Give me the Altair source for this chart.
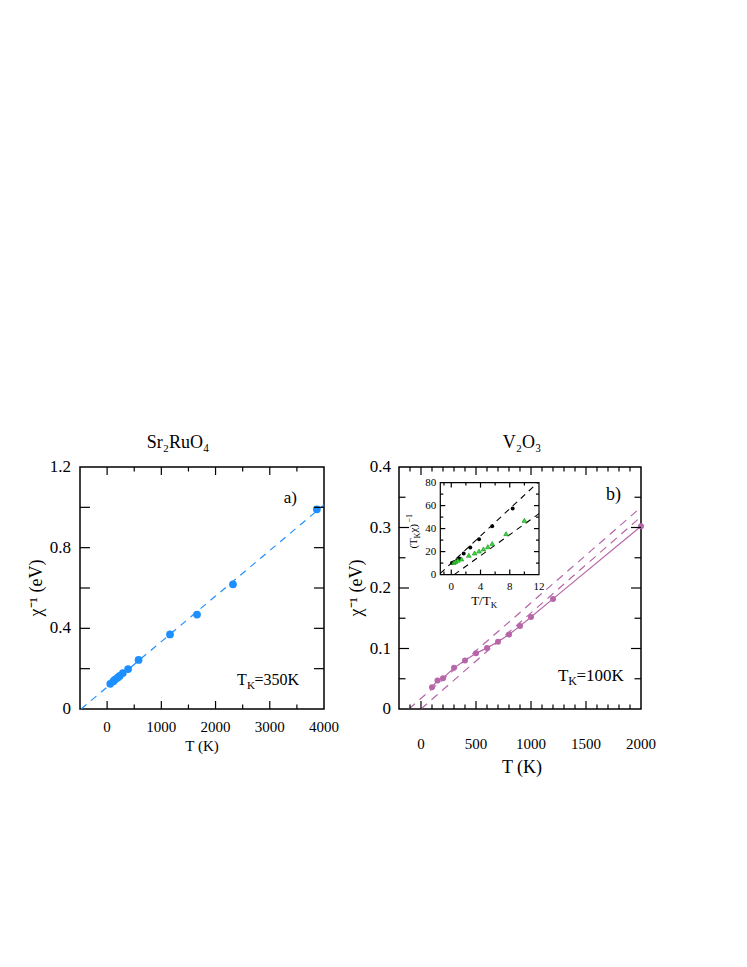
import altair as alt
import pandas as pd

FONT = "Liberation Serif"

# ---------------- Panel a: Sr2RuO4 ----------------
a_T = [58, 116, 145, 193, 232, 290, 387, 580, 1160, 1658, 2321, 3868]
a_chi = [0.125, 0.138, 0.146, 0.155, 0.164, 0.178, 0.198, 0.243, 0.370, 0.468, 0.618, 0.990]
a_fit_T = [-480, 4000]
a_fit_chi = [0.0, 1.012]
a_xdom = [-500, 4000]
a_ydom = [0, 1.2]
a_xlabels = [0, 1000, 2000, 3000, 4000]
a_xlabel_text = ["0", "1000", "2000", "3000", "4000"]
a_xminor = [500, 1500, 2500, 3500]
a_ylabels = [0, 0.4, 0.8, 1.2]
a_ylabel_text = ["0", "0.4", "0.8", "1.2"]
a_yticks = [0.2, 0.4, 0.6, 0.8, 1.0]

# ---------------- Panel b: V2O3 ----------------
b_T = [100, 150, 200, 300, 400, 500, 600, 700, 800, 900, 1000, 1200, 2000]
b_chi = [0.036, 0.047, 0.051, 0.068, 0.080, 0.092, 0.101, 0.111, 0.123, 0.137, 0.152, 0.182, 0.302]
b_fit1_T = [-110, 1970]
b_fit1_chi = [0.0, 0.3286]
b_fit2_T = [0, 1970]
b_fit2_chi = [0.0, 0.313]
b_xdom = [-200, 2000]
b_ydom = [0, 0.4]
b_xlabels = [0, 500, 1000, 1500, 2000]
b_xlabel_text = ["0", "500", "1000", "1500", "2000"]
b_xmajor = [0, 500, 1000, 1500]
b_xminor = [v for v in range(-100, 2000, 100) if v % 500 != 0]
b_ylabels = [0, 0.1, 0.2, 0.3, 0.4]
b_ylabel_text = ["0", "0.1", "0.2", "0.3", "0.4"]
b_ymajor = [0.1, 0.2, 0.3]
b_yminor = [0.05, 0.15, 0.25, 0.35]

# ---------------- Inset ----------------
ins_bx = [0.1, 0.4, 0.8, 1.1, 1.7, 2.6, 3.8, 5.6, 8.4]
ins_by = [10.1, 11.0, 12.5, 14.0, 18.3, 23.5, 30.7, 42.0, 57.4]
ins_gx = [0.35, 0.6, 0.9, 1.4, 2.4, 3.2, 3.8, 4.4, 5.0, 5.6, 7.5, 10.0]
ins_gy = [10.5, 11.5, 12.5, 13.6, 16.8, 18.8, 20.5, 22.3, 24.3, 27.0, 35.6, 47.2]
ins_fit1_x = [-1.5, 11.84]
ins_fit1_y = [1.0, 80.0]
ins_fit2_x = [0.4, 12.0]
ins_fit2_y = [0.0, 53.0]
ins_xdom = [-1.5, 12]
ins_ydom = [0, 80]
ins_xlabels = [0, 4, 8, 12]
ins_xlabel_text = ["0", "4", "8", "12"]
ins_xmajor = [0, 4, 8]
ins_xminor = [-1, 2, 6, 10]
ins_ylabels = [0, 20, 40, 60, 80]
ins_ylabel_text = ["0", "20", "40", "60", "80"]
ins_ymajor = [20, 40, 60]
ins_yminor = [10, 30, 50, 70]

BLUE = "#1e8fff"
PURPLE = "#b766a9"
GREEN = "#33dd33"

W_A, W_B, H = 244, 242, 242
# inset box in panel-b pixel coordinates
IL, IR, IT, IB = 41.3, 140.0, 15.6, 107.6


def xticks(vals, scale, length, ybot, ytop):
    df = pd.DataFrame({"v": vals})
    base = alt.Chart(df).mark_rule(color="black", strokeWidth=1.2)
    enc_x = alt.X("v:Q", scale=scale, axis=None)
    return [
        base.encode(x=enc_x, y=alt.value(ybot), y2=alt.value(ybot - length)),
        base.encode(x=enc_x, y=alt.value(ytop), y2=alt.value(ytop + length)),
    ]


def yticks(vals, scale, length, xleft, xright):
    df = pd.DataFrame({"v": vals})
    base = alt.Chart(df).mark_rule(color="black", strokeWidth=1.2)
    enc_y = alt.Y("v:Q", scale=scale, axis=None)
    return [
        base.encode(y=enc_y, x=alt.value(xleft), x2=alt.value(xleft + length)),
        base.encode(y=enc_y, x=alt.value(xright), x2=alt.value(xright - length)),
    ]


def xlabels(vals, texts, scale, ypix, fs):
    df = pd.DataFrame({"v": vals, "t": texts})
    return alt.Chart(df).mark_text(font=FONT, fontSize=fs, color="black", align="center",
                                   baseline="top").encode(
        x=alt.X("v:Q", scale=scale, axis=None), y=alt.value(ypix), text="t:N")


def ylabels(vals, texts, scale, xpix, fs):
    df = pd.DataFrame({"v": vals, "t": texts})
    return alt.Chart(df).mark_text(font=FONT, fontSize=fs, color="black", align="right",
                                   baseline="middle").encode(
        y=alt.Y("v:Q", scale=scale, axis=None), x=alt.value(xpix), text="t:N")


def free_text(txt, xpix, ypix, fs, angle=0, align="center", baseline="middle", dx=0, dy=0):
    kw = dict(font=FONT, fontSize=fs, color="black", align=align, baseline=baseline, dx=dx, dy=dy)
    if angle:
        kw["angle"] = angle
    return alt.Chart(pd.DataFrame({"t": [txt]})).mark_text(**kw).encode(
        x=alt.value(xpix), y=alt.value(ypix), text="t:N")


def text_layer(df, xscale, yscale, **kw):
    return alt.Chart(df).mark_text(font=FONT, color="black", **kw).encode(
        x=alt.X("x:Q", scale=xscale, axis=None),
        y=alt.Y("y:Q", scale=yscale, axis=None),
        text="t:N",
    )


# ================= Panel a =================
xs_a = alt.Scale(domain=a_xdom, nice=False, zero=False)
ys_a = alt.Scale(domain=a_ydom, nice=False, zero=False)

a_pts = pd.DataFrame({"T": a_T, "chi": a_chi})
a_fit = pd.DataFrame({"T": a_fit_T, "chi": a_fit_chi})

enc_ax = alt.X("T:Q", scale=xs_a, axis=None)
enc_ay = alt.Y("chi:Q", scale=ys_a, axis=None)
a_points = alt.Chart(a_pts).mark_point(filled=True, size=60, color=BLUE, opacity=1).encode(x=enc_ax, y=enc_ay)
a_line = alt.Chart(a_fit).mark_line(color=BLUE, strokeDash=[7, 6], strokeWidth=1.2).encode(x=enc_ax, y=enc_ay)

a_ann = pd.DataFrame({"x": [2394], "y": [0.119]})
a_ann_lbl = pd.DataFrame({"x": [3500], "y": [1.02], "t": ["a)"]})

panel_a = alt.layer(
    a_line,
    a_points,
    *xticks(a_xlabels[:-1], xs_a, 8, H, 0),
    *xticks(a_xminor, xs_a, 4.5, H, 0),
    *yticks(a_yticks, ys_a, 10, 0, W_A),
    xlabels(a_xlabels, a_xlabel_text, xs_a, H + 11, 15),
    ylabels(a_ylabels, a_ylabel_text, ys_a, -9, 17),
    free_text("T (K)", W_A / 2, H + 37, 15),
    free_text("χ⁻¹ (eV)", -43, H / 2, 18, angle=270),
    text_layer(a_ann.assign(t="T"), xs_a, ys_a, align="left", baseline="alphabetic", fontSize=16),
    text_layer(a_ann.assign(t="K"), xs_a, ys_a, align="left", baseline="alphabetic", fontSize=11, dx=10, dy=4),
    text_layer(a_ann.assign(t="=350K"), xs_a, ys_a, align="left", baseline="alphabetic", fontSize=16, dx=17.5),
    text_layer(a_ann_lbl, xs_a, ys_a, align="right", baseline="alphabetic", fontSize=17),
).properties(
    width=W_A, height=H,
    title=alt.TitleParams(text="Sr₂RuO₄", font=FONT, fontSize=18, fontWeight="normal",
                          color="black", anchor="middle", dx=-24, offset=6),
)

# ================= Panel b =================
xs_b = alt.Scale(domain=b_xdom, nice=False, zero=False)
ys_b = alt.Scale(domain=b_ydom, nice=False, zero=False)

b_pts = pd.DataFrame({"T": b_T, "chi": b_chi})
b_f1 = pd.DataFrame({"T": b_fit1_T, "chi": b_fit1_chi})
b_f2 = pd.DataFrame({"T": b_fit2_T, "chi": b_fit2_chi})

enc_bx = alt.X("T:Q", scale=xs_b, axis=None)
enc_by = alt.Y("chi:Q", scale=ys_b, axis=None)
b_line = alt.Chart(b_pts).mark_line(color=PURPLE, strokeWidth=1.2).encode(x=enc_bx, y=enc_by)
b_points = alt.Chart(b_pts).mark_point(filled=True, size=36, color=PURPLE, opacity=1).encode(x=enc_bx, y=enc_by)
b_d1 = alt.Chart(b_f1).mark_line(color=PURPLE, strokeDash=[8, 6], strokeWidth=1.2).encode(x=enc_bx, y=enc_by)
b_d2 = alt.Chart(b_f2).mark_line(color=PURPLE, strokeDash=[8, 6], strokeWidth=1.2).encode(x=enc_bx, y=enc_by)

b_ann = pd.DataFrame({"x": [1245], "y": [0.046]})
b_ann_lbl = pd.DataFrame({"x": [1818], "y": [0.345], "t": ["b)"]})

main_b = alt.layer(
    b_d1, b_d2, b_line, b_points,
    *xticks(b_xmajor, xs_b, 8, H, 0),
    *xticks(b_xminor, xs_b, 4.5, H, 0),
    *yticks(b_ymajor, ys_b, 10, 0, W_B),
    *yticks(b_yminor, ys_b, 6.5, 0, W_B),
    xlabels(b_xlabels, b_xlabel_text, xs_b, H + 28, 15),
    ylabels(b_ylabels, b_ylabel_text, ys_b, -8, 17),
    free_text("T (K)", W_B / 2 + 2, H + 59, 18),
    free_text("χ⁻¹ (eV)", -42, H / 2, 18, angle=270),
    text_layer(b_ann.assign(t="T"), xs_b, ys_b, align="left", baseline="alphabetic", fontSize=17),
    text_layer(b_ann.assign(t="K"), xs_b, ys_b, align="left", baseline="alphabetic", fontSize=12, dx=10.4, dy=4),
    text_layer(b_ann.assign(t="=100K"), xs_b, ys_b, align="left", baseline="alphabetic", fontSize=17, dx=18.5),
    text_layer(b_ann_lbl, xs_b, ys_b, align="right", baseline="alphabetic", fontSize=18),
)

# ---- Inset ----
xs_i = alt.Scale(domain=ins_xdom, range=[IL, IR], nice=False, zero=False)
ys_i = alt.Scale(domain=ins_ydom, range=[IB, IT], nice=False, zero=False)

box = pd.DataFrame({"x": [ins_xdom[0]], "x2": [ins_xdom[1]], "y": [ins_ydom[0]], "y2": [ins_ydom[1]]})
i_box = alt.Chart(box).mark_rect(fill="white", stroke="black", strokeWidth=1.2).encode(
    x=alt.X("x:Q", scale=xs_i, axis=None), x2="x2:Q",
    y=alt.Y("y:Q", scale=ys_i, axis=None), y2="y2:Q",
)

i_f1 = pd.DataFrame({"x": ins_fit1_x, "y": ins_fit1_y})
i_f2 = pd.DataFrame({"x": ins_fit2_x, "y": ins_fit2_y})
i_black = pd.DataFrame({"x": ins_bx, "y": ins_by})
i_green = pd.DataFrame({"x": ins_gx, "y": ins_gy})

enc_ix = alt.X("x:Q", scale=xs_i, axis=None)
enc_iy = alt.Y("y:Q", scale=ys_i, axis=None)
i_d1 = alt.Chart(i_f1).mark_line(color="black", strokeDash=[6, 5], strokeWidth=1.1).encode(x=enc_ix, y=enc_iy)
i_d2 = alt.Chart(i_f2).mark_line(color="black", strokeDash=[6, 5], strokeWidth=1.1).encode(x=enc_ix, y=enc_iy)
i_bp = alt.Chart(i_black).mark_point(filled=True, size=16, color="black", opacity=1).encode(x=enc_ix, y=enc_iy)
i_gp = alt.Chart(i_green).mark_point(shape="triangle-up", filled=True, size=22, color=GREEN,
                                     stroke="#1a8a1a", strokeWidth=0.6, opacity=1).encode(x=enc_ix, y=enc_iy)

ycx = IL - 23
ycy = (IT + IB) / 2 + 20

inset = alt.layer(
    i_box, i_d1, i_d2, i_bp, i_gp,
    *xticks(ins_xmajor, xs_i, 5, IB, IT),
    *xticks(ins_xminor, xs_i, 3, IB, IT),
    *yticks(ins_ymajor, ys_i, 5, IL, IR),
    *yticks(ins_yminor, ys_i, 3, IL, IR),
    xlabels(ins_xlabels, ins_xlabel_text, xs_i, IB + 6, 11),
    ylabels(ins_ylabels, ins_ylabel_text, ys_i, IL - 4, 11),
    free_text("T/T", (IL + IR) / 2 + 1, IB + 30, 13, align="right", baseline="alphabetic"),
    free_text("K", (IL + IR) / 2 + 1, IB + 33, 9, align="left", baseline="alphabetic"),
    free_text("(T", ycx, ycy, 11, angle=270, align="left", baseline="alphabetic"),
    free_text("K", ycx, ycy, 8, angle=270, align="left", baseline="alphabetic", dx=10, dy=3),
    free_text("χ)", ycx, ycy, 11, angle=270, align="left", baseline="alphabetic", dx=16),
    free_text("−1", ycx, ycy, 8, angle=270, align="left", baseline="alphabetic", dx=26, dy=-5),
)

panel_b = alt.layer(main_b, inset).resolve_scale(x="independent", y="independent").properties(
    width=W_B, height=H,
    title=alt.TitleParams(text="V₂O₃", font=FONT, fontSize=18, fontWeight="normal",
                          color="black", anchor="middle", dx=2, offset=6),
)

chart = alt.hconcat(panel_a, panel_b, spacing=7).properties(
    padding={"top": 425, "left": 19, "right": 5, "bottom": 5},
).configure(font=FONT, background="white").configure_view(
    stroke="black", strokeWidth=1.5
).configure_title(font=FONT)

chart.save("out.html", embed_options={"renderer": "svg", "actions": False})
